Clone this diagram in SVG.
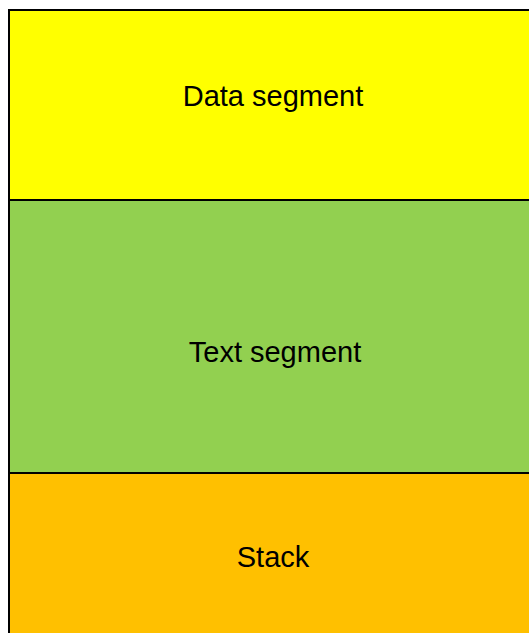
<svg xmlns="http://www.w3.org/2000/svg" width="529" height="633" viewBox="0 0 529 633">
<style>
.lbl{font-family:"Liberation Sans",Arial,sans-serif;font-size:29px;fill:#000;text-anchor:middle}
.seg{stroke:#000;stroke-width:2}
</style>
<rect width="529" height="633" fill="#fff"/>
<g id="data">
<rect class="seg" x="9" y="10" width="540" height="190" fill="#FFFF00"/>
<text class="lbl" x="273" y="106">Data segment</text>
</g>
<g id="text">
<rect class="seg" x="9" y="200" width="540" height="273" fill="#92D050"/>
<text class="lbl" x="275" y="362">Text segment</text>
</g>
<g id="stack">
<rect class="seg" x="9" y="473" width="540" height="180" fill="#FFC000"/>
<text class="lbl" x="273" y="567">Stack</text>
</g>
<g id="connectors"/>
</svg>
